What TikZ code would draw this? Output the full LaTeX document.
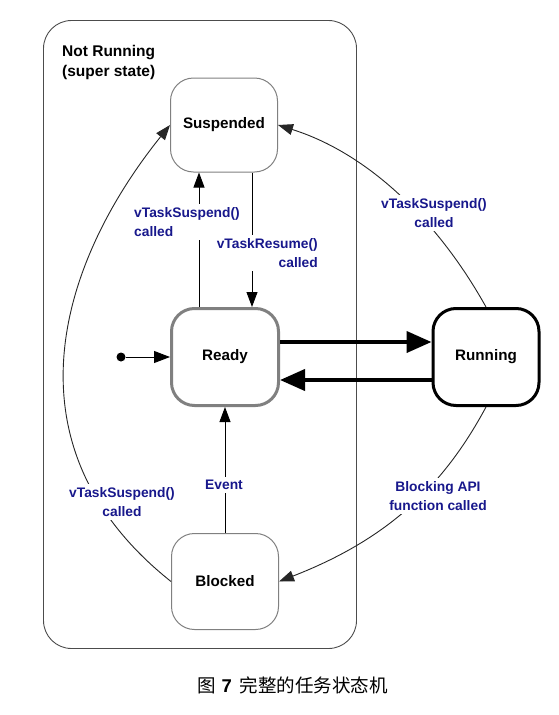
\documentclass[tikz,border=0pt]{standalone}
\usepackage{fontspec}
\setmainfont{Liberation Sans}
\newfontfamily\cjk{Noto Sans CJK SC}
\usetikzlibrary{arrows.meta}
\definecolor{lbl}{RGB}{24,24,140}
\definecolor{boxgray}{RGB}{128,128,128}
\tikzset{
  statebox/.style={draw=boxgray, line width=1pt, rounded corners=23pt, fill=white,
    minimum width=107pt, inner sep=0pt,
    font=\fontsize{15.2}{18}\selectfont\bfseries},
  thinarrow/.style={line width=0.9pt, -{Triangle[length=15pt,width=11pt]}},
  thickarrow/.style={line width=4pt, -{Triangle[length=25pt,width=21pt]}},
  curvearrow/.style={line width=0.9pt, draw=black!85, -{Triangle[length=15pt,width=11pt]}},
  evlabel/.style={fill=white, text=lbl, inner sep=3pt,
    font=\fontsize{13.8}{19}\selectfont\bfseries},
}
\begin{document}
\begin{tikzpicture}[x=1pt,y=-1pt]
\useasboundingbox (0,0) rectangle (559,715);
% super state
\draw[draw=black!70, line width=0.9pt, rounded corners=28pt] (43.5,20.5) rectangle (356.5,648.5);
\node[anchor=north west, align=left, inner sep=0pt, font=\fontsize{15.5}{20}\selectfont\bfseries] (super) at (62,45) {Not Running\\(super state)};
% states
\node[statebox, minimum height=94pt] (susp) at (224,125) {Suspended};
\node[statebox, draw=boxgray, line width=3pt, minimum height=97pt] (ready) at (225,357) {Ready};
\node[statebox, draw=black, line width=3pt, minimum width=106pt, minimum height=97pt] (run) at (486,357) {Running};
\node[statebox, minimum height=96pt] (blk) at (225,581.5) {Blocked};
% initial
\node[circle, fill=black, inner sep=0pt, minimum size=9pt] (init) at (121,357) {};
\draw[line width=0.9pt, -{Triangle[length=16pt,width=12pt]}] (init) -- (ready.west);
% ready <-> running
\draw[thickarrow] ([yshift=15pt]ready.east) -- ([yshift=15pt]run.west);
\draw[thickarrow] ([yshift=-23pt]run.west) -- ([yshift=-23pt]ready.east);
% ready <-> suspended
\draw[thinarrow] ([xshift=-26pt]ready.north) -- ([xshift=-25pt]susp.south);
\draw[thinarrow] ([xshift=28pt]susp.south) -- ([xshift=27pt]ready.north);
% blocked -> ready
\draw[thinarrow] (blk.north) -- (ready.south);
% curves
\draw[curvearrow] (run.north) .. controls +(-49,-88) and +(89,28) .. (susp.east);
\draw[curvearrow] (run.south) .. controls +(-43,80) and +(108,-42) .. (blk.east);
\draw[curvearrow] (blk.west) .. controls +(-171,-136) and +(-110,137) .. (susp.west);
% labels
\node[evlabel, anchor=west, align=left] (l1) at (131,222) {vTaskSuspend()\\called};
\node[evlabel, anchor=east, align=right] (l2) at (321,253) {vTaskResume()\\called};
\node[evlabel] (l3) at (224,485) {Event};
\node[evlabel, align=center] (l4) at (434,213) {vTaskSuspend()\\called};
\node[evlabel, align=center] (l5) at (438,496) {Blocking API\\function called};
\node[evlabel, align=center] (l6) at (122,502) {vTaskSuspend()\\called};
% caption
\node[anchor=base west, inner sep=0pt, font=\fontsize{18.5}{21}\selectfont] (cap) at (197,692)
  {{\cjk 图}\hspace{6pt}{\bfseries 7}\hspace{8pt}{\cjk 完整的任务状态机}};
\end{tikzpicture}
\end{document}
